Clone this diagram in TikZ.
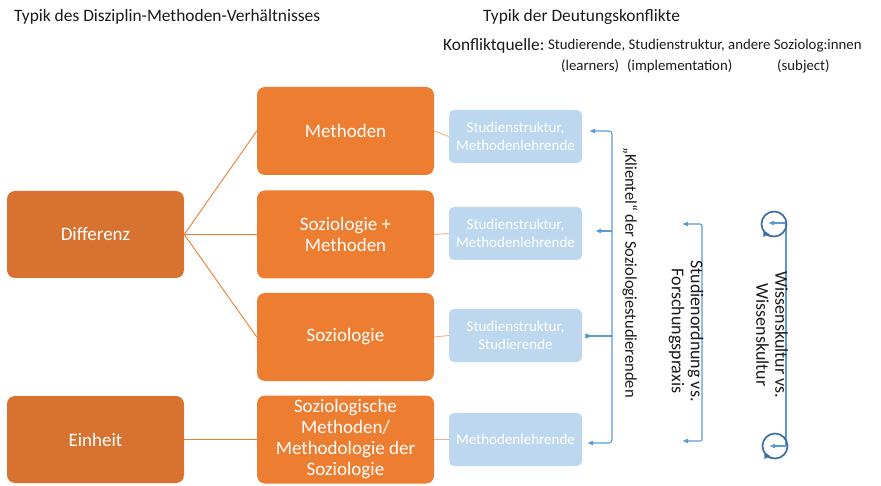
\documentclass[tikz,border=0pt]{standalone}
\usepackage{fontspec}
\setmainfont{Carlito}
\usetikzlibrary{arrows.meta}
\definecolor{darkorange}{HTML}{D77230}
\definecolor{midorange}{HTML}{ED7D31}
\definecolor{lightorange}{HTML}{F4B183}
\definecolor{paleblue}{HTML}{BDD7EE}
\definecolor{linkblue}{HTML}{5B9BD5}
\definecolor{loopblue}{HTML}{3E6FA3}
\definecolor{ink}{HTML}{1A1A1A}
\begin{document}
\begin{tikzpicture}[x=1pt,y=-1pt,
  rootbox/.style={fill=darkorange,draw=none,rounded corners=8pt,
    minimum width=177pt,minimum height=87pt,text=white,align=center,
    font=\fontsize{19}{21}\selectfont,inner sep=0pt},
  levelbox/.style={fill=midorange,draw=none,rounded corners=8pt,
    minimum width=177pt,minimum height=88pt,text=white,align=center,
    font=\fontsize{19}{21}\selectfont,inner sep=0pt},
  sourcebox/.style={fill=paleblue,draw=none,rounded corners=5pt,
    minimum width=133pt,minimum height=53pt,text=white,align=center,
    font=\fontsize{15}{18}\selectfont,inner sep=0pt},
  treeline/.style={draw=midorange,line width=0.9pt},
  leafline/.style={draw=lightorange,line width=0.9pt},
  bracket/.style={draw=linkblue,line width=1.1pt},
  tip/.style={-{Latex[length=6pt,width=5pt]}},
  loop/.style={draw=loopblue,line width=1.7pt},
  vlabel/.style={rotate=-90,text=ink,align=center,
    font=\fontsize{18}{19}\selectfont,inner sep=0pt},
  heading/.style={text=ink,anchor=west,inner sep=0pt}
]
\useasboundingbox (0,0) rectangle (881,486);

% headings
\node[heading,font=\fontsize{17.4}{19}\selectfont] (h1) at (14,17) {Typik des Disziplin-Methoden-Verhältnisses};
\node[heading,font=\fontsize{17.4}{19}\selectfont] (h2) at (483,17) {Typik der Deutungskonflikte};
\node[heading,font=\fontsize{17.3}{19}\selectfont] (kq) at (443,46) {Konfliktquelle:};
\node[heading,font=\fontsize{14.8}{17}\selectfont] (kl) at (548,46) {Studierende, Studienstruktur, andere Soziolog:innen};
\node[heading,font=\fontsize{14.8}{17}\selectfont] (l1) at (561,66) {(learners)};
\node[heading,font=\fontsize{14.8}{17}\selectfont] (l2) at (627,66) {(implementation)};
\node[heading,font=\fontsize{14.8}{17}\selectfont] (l3) at (777,66) {(subject)};

% left column
\node[rootbox] (diff) at (95.5,234.5) {Differenz};
\node[rootbox] (einh) at (95.5,439.5) {Einheit};

% middle column
\node[levelbox] (meth) at (345.5,131) {Methoden};
\node[levelbox] (sozm) at (345.5,234.5) {Soziologie +\\Methoden};
\node[levelbox] (sozi) at (345.5,337) {Soziologie};
\node[levelbox] (sozl) at (345.5,439.5) {Soziologische\\Methoden/\\Methodologie der\\Soziologie};

% conflict sources
\node[sourcebox] (b1) at (515.5,136.5) {Studienstruktur,\\Methodenlehrende};
\node[sourcebox] (b2) at (515.5,233.5) {Studienstruktur,\\Methodenlehrende};
\node[sourcebox] (b3) at (515.5,335.5) {Studienstruktur,\\Studierende};
\node[sourcebox] (b4) at (515.5,439.5) {Methodenlehrende};

% tree connectors
\draw[treeline] (diff.east) -- (meth.west);
\draw[treeline] (diff.east) -- (sozm.west);
\draw[treeline] (diff.east) -- (sozi.west);
\draw[treeline] (einh.east) -- (sozl.west);
\draw[leafline] (meth.east) -- (b1.west);
\draw[leafline] (sozm.east) -- (b2.west);
\draw[leafline] (sozi.east) -- (b3.west);
\draw[leafline] (sozl.east) -- (b4.west);

% bracket: Klientel
\coordinate (kdot) at (587,336);
\coordinate (kmid) at (612,336);
\coordinate (kt1) at (589,131);
\coordinate (kt2) at (595,231);
\coordinate (kt4) at (587,443);
\draw[bracket,tip,rounded corners=3pt] (kmid) -- (612,131) -- (kt1);
\draw[bracket,tip,rounded corners=3pt] (kmid) -- (612,443) -- (kt4);
\draw[bracket,tip] (612,231) -- (kt2);
\draw[bracket] (kdot) -- (kmid);
\fill[linkblue] (kdot) circle (2.3pt);
\node[vlabel,font=\fontsize{16.5}{18}\selectfont] (klab) at (630,272.5) {„Klientel“ der Soziologiestudierenden};

% bracket: Studienordnung
\coordinate (st1) at (682,224);
\coordinate (st2) at (682,441);
\draw[bracket,{Latex[length=6pt,width=5pt]}-{Latex[length=6pt,width=5pt]},rounded corners=2pt]
  (st1) -- (702,224) -- (702,441) -- (st2);
\node[vlabel] (slab) at (686,331) {Studienordnung vs.\\Forschungspraxis};

% bracket: Wissenskultur with self loops
\coordinate (wc1) at (774,224);
\coordinate (wc2) at (775,446);
\coordinate (wt1) at (768,223);
\coordinate (wt2) at (769,446);
\draw[bracket] (786,223) -- (786,446);
\draw[bracket,tip] (786,223) -- (wt1);
\draw[bracket,tip] (786,446) -- (wt2);
\draw[loop] (wc1) circle (12.5pt);
\draw[loop] (wc2) circle (12.5pt);
\draw[loop,-{Triangle[length=6pt,width=6pt]}] (wc1) ++(100:12.5) arc[start angle=100,end angle=150,radius=12.5];
\draw[loop,-{Triangle[length=6pt,width=6pt]}] (wc2) ++(100:12.5) arc[start angle=100,end angle=150,radius=12.5];
\node[vlabel] (wlab) at (772,335) {Wissenskultur vs.\\Wissenskultur};
\end{tikzpicture}
\end{document}
